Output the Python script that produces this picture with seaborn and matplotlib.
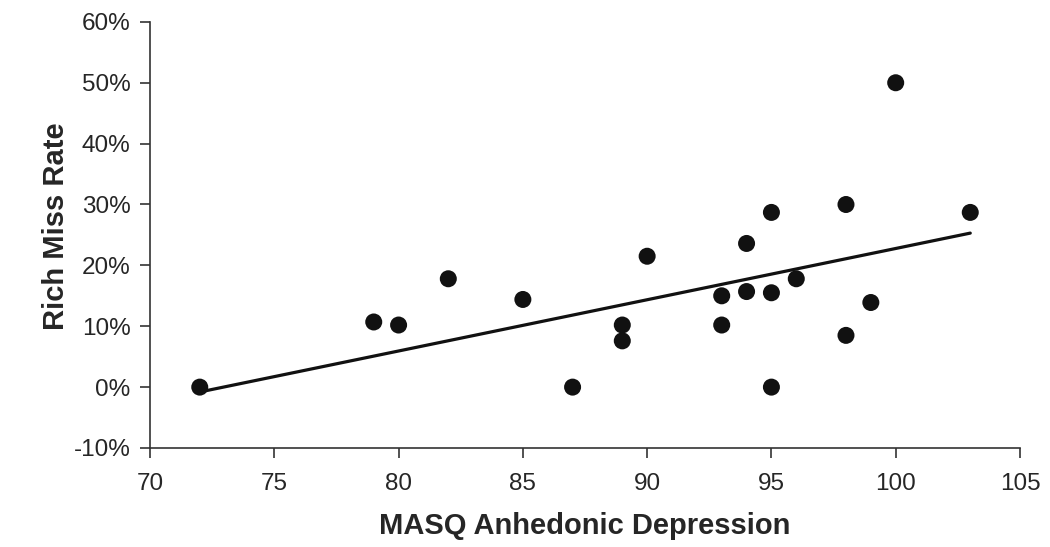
import matplotlib
matplotlib.use("Agg")
import matplotlib.pyplot as plt
import seaborn as sns
import pandas as pd
from matplotlib.ticker import PercentFormatter

# Data
masq = [72, 79, 80, 82, 85, 87, 89, 89, 90, 93, 93, 94, 94, 95, 95, 95, 96, 98, 98, 99, 100, 103]
miss_rate = [0.0, 10.7, 10.2, 17.8, 14.4, 0.0, 10.2, 7.6, 21.5, 15.0, 10.2, 23.6, 15.7, 28.7,
             15.5, 0.0, 17.8, 30.0, 8.5, 13.9, 50.0, 28.7]
# Trend line endpoints as shown in the reference
trend_x = [72, 103]
trend_y = [-0.8, 25.3]

x_ticks = [70, 75, 80, 85, 90, 95, 100, 105]
y_ticks = [-10, 0, 10, 20, 30, 40, 50, 60]

df = pd.DataFrame({"x": masq, "y": miss_rate})
trend = pd.DataFrame({"x": trend_x, "y": trend_y})

sns.set_theme(style="ticks")
plt.rcParams["font.family"] = ["Liberation Sans", "DejaVu Sans"]
plt.rcParams["axes.unicode_minus"] = False

fig = plt.figure(figsize=(10.5, 5.47), dpi=100)
ax = fig.add_axes([0.1429, 0.181, 0.8285, 0.779])

sns.lineplot(data=trend, x="x", y="y", ax=ax, color="#111111", linewidth=2.3)
sns.scatterplot(data=df, x="x", y="y", ax=ax, color="#111111", s=150, edgecolor="none", zorder=3)

ax.set_xlim(70, 105)
ax.set_ylim(-10, 60)
ax.set_xticks(x_ticks)
ax.set_yticks(y_ticks)
ax.yaxis.set_major_formatter(PercentFormatter(decimals=0))
ax.tick_params(axis="both", labelsize=17.5, length=7, width=1.2, color="#333333", pad=7)
ax.tick_params(axis="x", pad=11)
for s in ["left", "bottom"]:
    ax.spines[s].set_linewidth(1.2)
    ax.spines[s].set_color("#333333")
sns.despine(ax=ax)

ax.set_xlabel("MASQ Anhedonic Depression", fontsize=21, fontweight="bold", labelpad=12)
ax.set_ylabel("Rich Miss Rate", fontsize=21, fontweight="bold", labelpad=0)
ax.yaxis.set_label_coords(-0.092, 0.52)

fig.savefig("out.png", dpi=100)
